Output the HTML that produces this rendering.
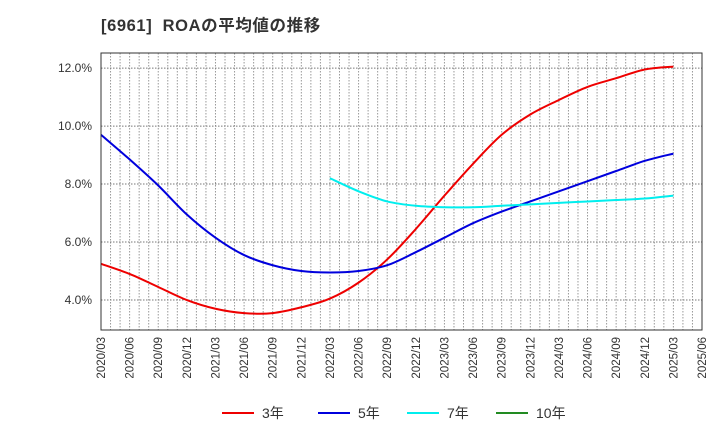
<!DOCTYPE html>
<html><head><meta charset="utf-8"><style>
body{margin:0;background:#fff;}
svg text{font-family:"Liberation Sans","Noto Sans CJK JP",sans-serif;}
</style></head><body>
<svg id="c" width="720" height="440" viewBox="0 0 720 440">
<text x="101" y="31" font-size="16.5" font-weight="bold" fill="#333" letter-spacing="0.6" xml:space="preserve">[6961]  ROAの平均値の推移</text>
<g id="grid"></g>
<g id="series"></g>
<rect x="101" y="53" width="601" height="277" fill="none" stroke="#333" stroke-width="1"/>
<g id="legend"></g>
</svg>
<script>
const xLabels=["2020/03","2020/06","2020/09","2020/12","2021/03","2021/06","2021/09","2021/12","2022/03","2022/06","2022/09","2022/12","2023/03","2023/06","2023/09","2023/12","2024/03","2024/06","2024/09","2024/12","2025/03","2025/06"];
const yTicks=[4,6,8,10,12];
const s3=[5.25,4.9,4.45,4.0,3.7,3.55,3.55,3.75,4.05,4.6,5.4,6.45,7.6,8.7,9.7,10.4,10.9,11.35,11.65,11.95,12.05];
const s5=[9.7,8.85,7.95,6.95,6.15,5.55,5.2,5.0,4.95,5.0,5.2,5.65,6.15,6.65,7.05,7.4,7.75,8.1,8.45,8.8,9.05];
const s7=[null,null,null,null,null,null,null,null,8.2,7.75,7.4,7.25,7.2,7.2,7.25,7.3,7.35,7.4,7.45,7.5,7.6];
const s10=[];
const NS="http://www.w3.org/2000/svg";
const X0=101,X1=702,Y0=53,Y1=330,ymin=2.966,ymax=12.52;
const xs=i=>X0+i*(X1-X0)/(xLabels.length-1);
const ys=v=>Y1-(v-ymin)/(ymax-ymin)*(Y1-Y0);
function mk(t,a,p){const e=document.createElementNS(NS,t);for(const k in a)e.setAttribute(k,a[k]);p.appendChild(e);return e;}
const g=document.getElementById('grid');
for(let m=1;m<63;m++){const x=X0+m*(X1-X0)/63;
const l=mk('line',{x1:x,x2:x,y1:Y0,y2:Y1,stroke:'#999','stroke-dasharray':'1.5,1.5','stroke-width':1},g);

}
yTicks.forEach(v=>{const y=ys(v);
const l=mk('line',{x1:X0,x2:X1,y1:y,y2:y,stroke:'#777','stroke-dasharray':'1.5,1.5','stroke-width':1},g);


const t=mk('text',{x:92,y:y+4,'font-size':12,fill:'#333','text-anchor':'end'},g);t.textContent=v.toFixed(1)+'%';

});
xLabels.forEach((lb,i)=>{const x=xs(i);
const t=mk('text',{x:x+4,y:337,'font-size':11.5,fill:'#333','text-anchor':'end',transform:`rotate(-90 ${x+4} 337)`},g);t.textContent=lb;

});
function path(arr){const p=[];arr.forEach((v,i)=>{if(v!=null)p.push([xs(i),ys(v)]);});if(p.length<2)return '';
let d=`M${p[0][0]},${p[0][1]}`;for(let i=0;i<p.length-1;i++){const a=p[i-1]||p[i],b=p[i],c=p[i+1],e=p[i+2]||c;
d+=` C${b[0]+(c[0]-a[0])/6},${b[1]+(c[1]-a[1])/6} ${c[0]-(e[0]-b[0])/6},${c[1]-(e[1]-b[1])/6} ${c[0]},${c[1]}`;}return d;}
const sg=document.getElementById('series');
[[s3,'#ee0000','line-3yr'],[s5,'#0000dd','line-5yr'],[s7,'#00eeee','line-7yr'],[s10,'#228b22','line-10yr']].forEach(([a,c,n])=>{const d=path(a);if(!d)return;
const e=mk('path',{d:d,fill:'none',stroke:c,'stroke-width':2},sg);

});
const lg=document.getElementById('legend');
[['3年','#ee0000',222],['5年','#0000dd',318],['7年','#00eeee',407],['10年','#228b22',496]].forEach(([t,c,x])=>{
const gg=mk('g',{},lg);


mk('line',{x1:x,x2:x+32,y1:413,y2:413,stroke:c,'stroke-width':2},gg);
const tx=mk('text',{x:x+40,y:418,'font-size':14,fill:'#333'},gg);tx.textContent=t;});
</script>
</body></html>
